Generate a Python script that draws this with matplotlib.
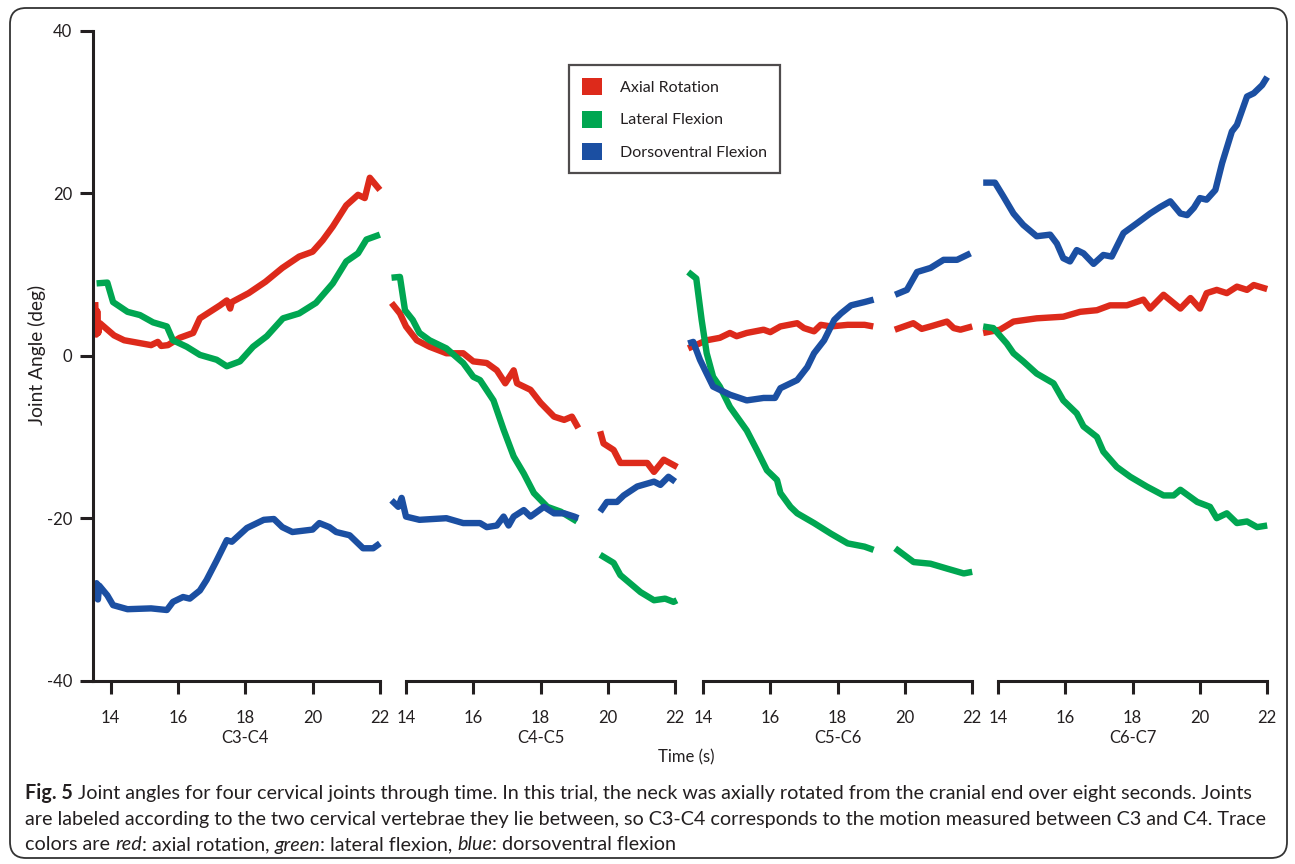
import matplotlib
matplotlib.use("Agg")
import matplotlib.pyplot as plt
import numpy as np
from matplotlib.patches import FancyBboxPatch, Patch
from matplotlib.transforms import IdentityTransform, ScaledTranslation

plt.rcParams['font.family'] = ['Lato', 'DejaVu Sans']
plt.rcParams['axes.unicode_minus'] = False

# ---------------- data ----------------
panels = ["C3-C4", "C4-C5", "C5-C6", "C6-C7"]
series_names = ["Axial Rotation", "Lateral Flexion", "Dorsoventral Flexion"]
x_ticks = [14, 16, 18, 20, 22]
y_ticks = [-40, -20, 0, 20, 40]
gap = np.nan

# C3-C4
c3c4_axial_t = [13.54, 13.57, 13.60, 13.63, 13.68, 14.1, 14.4, 14.8, 15.2, 15.4, 15.5, 15.7, 16.05, 16.45, 16.65, 17.25, 17.45, 17.55, 17.6, 18.1, 18.6, 19.1, 19.6, 20.0, 20.3, 20.6, 21.0, 21.35, 21.55, 21.7, 22.0]
c3c4_axial = [6.6, 2.6, 5.5, 2.8, 4.0, 2.5, 1.9, 1.6, 1.3, 1.7, 1.2, 1.3, 2.2, 2.8, 4.6, 6.2, 6.8, 5.8, 6.6, 7.7, 9.1, 10.8, 12.2, 12.8, 14.2, 15.9, 18.5, 19.8, 19.4, 21.9, 20.4]
c3c4_lateral_t = [13.58, 13.9, 14.07, 14.5, 14.87, 15.26, 15.67, 15.85, 16.26, 16.65, 17.15, 17.45, 17.84, 18.23, 18.64, 19.12, 19.6, 20.1, 20.6, 21.0, 21.35, 21.6, 22.0]
c3c4_lateral = [8.9, 9.0, 6.6, 5.4, 5.0, 4.1, 3.6, 1.9, 1.1, 0.1, -0.5, -1.3, -0.7, 1.1, 2.4, 4.6, 5.2, 6.5, 8.9, 11.6, 12.6, 14.3, 14.9]
c3c4_dorso_t = [13.55, 13.58, 13.62, 13.66, 13.9, 14.07, 14.5, 15.2, 15.67, 15.85, 16.15, 16.35, 16.65, 16.85, 17.15, 17.45, 17.6, 18.05, 18.55, 18.85, 19.1, 19.4, 20.0, 20.2, 20.5, 20.7, 21.1, 21.5, 21.8, 22.0]
c3c4_dorso = [-30.2, -28.0, -30.0, -28.3, -29.5, -30.7, -31.2, -31.1, -31.3, -30.3, -29.7, -29.9, -28.9, -27.6, -25.2, -22.7, -22.9, -21.2, -20.2, -20.1, -21.1, -21.7, -21.4, -20.6, -21.1, -21.7, -22.1, -23.7, -23.7, -23.1]

# C4-C5
c4c5_axial_t = [13.57, 13.82, 14.0, 14.32, 14.7, 15.2, 15.7, 16.0, 16.4, 16.7, 16.95, 17.2, 17.3, 17.7, 18.0, 18.4, 18.7, 18.93, 19.12, 19.4, 19.77, 19.87, 20.17, 20.37, 20.77, 21.17, 21.37, 21.66, 22.06]
c4c5_axial = [6.5, 5.2, 3.6, 1.9, 1.1, 0.3, 0.3, -0.7, -0.9, -1.8, -3.4, -1.8, -3.4, -4.2, -5.8, -7.5, -7.9, -7.5, -8.9, gap, -9.3, -10.8, -11.6, -13.2, -13.2, -13.2, -14.3, -12.8, -13.7]
c4c5_lateral_t = [13.57, 13.82, 13.97, 14.2, 14.4, 14.7, 15.2, 15.7, 16.0, 16.2, 16.6, 16.9, 17.2, 17.5, 17.8, 18.2, 18.6, 19.08, 19.4, 19.77, 20.17, 20.37, 20.77, 20.97, 21.37, 21.7, 21.95, 22.05]
c4c5_lateral = [9.6, 9.7, 5.6, 4.4, 2.8, 1.9, 0.9, -0.9, -2.6, -3.0, -5.5, -9.1, -12.4, -14.5, -16.9, -18.6, -19.2, -20.4, gap, -24.5, -25.5, -27.0, -28.4, -29.1, -30.1, -29.9, -30.3, -30.1]
c4c5_dorso_t = [13.57, 13.77, 13.87, 14.0, 14.4, 15.2, 15.7, 16.2, 16.4, 16.7, 16.9, 17.05, 17.2, 17.5, 17.7, 18.1, 18.4, 18.7, 19.0, 19.12, 19.4, 19.77, 19.97, 20.27, 20.47, 20.87, 21.37, 21.56, 21.8, 22.0]
c4c5_dorso = [-17.8, -18.6, -17.5, -19.8, -20.2, -20.0, -20.6, -20.6, -21.1, -20.9, -19.8, -20.9, -19.8, -19.0, -19.8, -18.6, -19.4, -19.4, -19.8, -20.0, gap, -19.2, -18.0, -18.0, -17.2, -16.1, -15.5, -15.9, -14.9, -15.5]

# C5-C6
c5c6_axial_t = [13.56, 14.11, 14.5, 14.8, 15.0, 15.3, 15.8, 16.0, 16.3, 16.8, 17.0, 17.3, 17.5, 17.8, 18.3, 18.8, 19.06, 19.4, 19.7, 20.25, 20.5, 20.76, 21.25, 21.45, 21.65, 22.0]
c5c6_axial = [0.9, 1.9, 2.2, 2.8, 2.4, 2.8, 3.2, 2.9, 3.6, 4.0, 3.4, 3.0, 3.8, 3.6, 3.8, 3.8, 3.6, gap, 3.2, 4.0, 3.3, 3.6, 4.2, 3.4, 3.2, 3.6]
c5c6_lateral_t = [13.56, 13.8, 13.96, 14.11, 14.3, 14.5, 14.8, 15.3, 15.6, 15.9, 16.2, 16.3, 16.6, 16.8, 17.3, 17.8, 18.3, 18.8, 19.07, 19.4, 19.71, 20.26, 20.76, 21.25, 21.75, 22.0]
c5c6_lateral = [10.3, 9.5, 4.4, 0.3, -2.6, -3.8, -6.3, -9.2, -11.6, -14.1, -15.3, -16.9, -18.6, -19.4, -20.6, -21.9, -23.1, -23.5, -23.9, gap, -23.7, -25.4, -25.6, -26.2, -26.8, -26.6]
c5c6_dorso_t = [13.56, 13.71, 13.91, 14.11, 14.3, 14.8, 15.3, 15.8, 16.14, 16.3, 16.8, 17.1, 17.3, 17.6, 17.9, 18.1, 18.4, 18.8, 19.07, 19.4, 19.71, 20.06, 20.36, 20.76, 21.15, 21.55, 21.95]
c5c6_dorso = [1.5, 1.7, -0.5, -2.2, -3.8, -4.8, -5.5, -5.2, -5.2, -4.0, -3.0, -1.4, 0.3, 1.9, 4.4, 5.2, 6.2, 6.6, 6.9, gap, 7.5, 8.1, 10.3, 10.8, 11.8, 11.8, 12.6]

# C6-C7
c6c7_axial_t = [13.56, 14.06, 14.46, 15.15, 15.94, 16.44, 16.94, 17.33, 17.83, 18.32, 18.52, 18.92, 19.42, 19.72, 20.0, 20.2, 20.5, 20.8, 21.1, 21.4, 21.6, 22.0]
c6c7_axial = [2.8, 3.2, 4.2, 4.6, 4.8, 5.4, 5.6, 6.2, 6.2, 6.9, 5.8, 7.5, 5.8, 7.1, 5.8, 7.7, 8.1, 7.7, 8.5, 8.1, 8.7, 8.2]
c6c7_lateral_t = [13.56, 13.86, 14.26, 14.46, 14.75, 15.15, 15.65, 15.94, 16.34, 16.54, 16.94, 17.13, 17.53, 17.93, 18.42, 18.92, 19.22, 19.42, 19.92, 20.3, 20.5, 20.8, 21.1, 21.4, 21.7, 22.0]
c6c7_lateral = [3.6, 3.4, 1.5, 0.3, -0.7, -2.2, -3.4, -5.5, -7.1, -8.7, -10.0, -11.8, -13.7, -14.9, -16.1, -17.2, -17.2, -16.5, -18.0, -18.6, -20.0, -19.4, -20.6, -20.4, -21.1, -20.9]
c6c7_dorso_t = [13.56, 13.91, 14.16, 14.46, 14.75, 15.15, 15.55, 15.75, 15.94, 16.14, 16.34, 16.54, 16.84, 17.13, 17.38, 17.73, 18.13, 18.52, 18.82, 19.12, 19.42, 19.62, 19.82, 20.0, 20.2, 20.46, 20.66, 20.95, 21.1, 21.4, 21.6, 21.85, 22.0]
c6c7_dorso = [21.3, 21.3, 19.6, 17.5, 16.1, 14.7, 14.9, 13.8, 12.0, 11.6, 13.0, 12.6, 11.3, 12.4, 12.2, 15.1, 16.3, 17.5, 18.3, 19.0, 17.5, 17.3, 18.2, 19.4, 19.2, 20.4, 23.7, 27.6, 28.4, 31.9, 32.3, 33.3, 34.3]

panel_data = [
    [(c3c4_axial_t, c3c4_axial), (c3c4_lateral_t, c3c4_lateral), (c3c4_dorso_t, c3c4_dorso)],
    [(c4c5_axial_t, c4c5_axial), (c4c5_lateral_t, c4c5_lateral), (c4c5_dorso_t, c4c5_dorso)],
    [(c5c6_axial_t, c5c6_axial), (c5c6_lateral_t, c5c6_lateral), (c5c6_dorso_t, c5c6_dorso)],
    [(c6c7_axial_t, c6c7_axial), (c6c7_lateral_t, c6c7_lateral), (c6c7_dorso_t, c6c7_dorso)],
]
colors = ["#DD2A1B", "#00A651", "#1B4FA2"]

# ---------------- layout ----------------
W, H = 1295, 864
fig = plt.figure(figsize=(W / 100, H / 100), dpi=100)

def fx(px):
    return px / W

def fy(py):
    return 1 - py / H

PX_PER_S = 33.65
T0, T1 = 13.46, 22.1
panel_x14 = [110.7, 406.0, 703.0, 998.0]
bottom = fy(680.7)
top = fy(30.7)
LW_AX = 2.2
TXT = "#231F20"
LBL = 12

for i, x14 in enumerate(panel_x14):
    left = x14 - (14 - T0) * PX_PER_S
    width = (T1 - T0) * PX_PER_S
    ax = fig.add_axes([fx(left), bottom, width / W, top - bottom])
    ax.set_xlim(T0, T1)
    ax.set_ylim(-40, 40)
    ax.patch.set_visible(False)
    for s in ["top", "right"]:
        ax.spines[s].set_visible(False)
    for s in ["bottom", "left"]:
        ax.spines[s].set_linewidth(LW_AX)
        ax.spines[s].set_color(TXT)
    if i == 0:
        ax.spines["bottom"].set_bounds(T0, 22)
        ax.set_yticks(y_ticks)
        ax.set_yticklabels([str(v) for v in y_ticks])
        ax.tick_params(axis="y", direction="out", length=9.5, width=LW_AX,
                       pad=5, labelsize=LBL, colors=TXT)
    else:
        ax.spines["left"].set_visible(False)
        ax.spines["bottom"].set_bounds(14, 22)
        ax.set_yticks([])
    ax.set_xticks(x_ticks)
    ax.set_xticklabels([str(v) for v in x_ticks])
    ax.tick_params(axis="x", direction="out", length=9.5, width=LW_AX,
                   pad=11.5, labelsize=LBL, colors=TXT)
    for (t, v), c in zip(panel_data[i], colors):
        ax.plot(t, v, color=c, lw=4.6, clip_on=False,
                solid_joinstyle="round", solid_capstyle="butt")
    ax.text(18, 0, panels[i],
            transform=ax.get_xaxis_transform() +
            ScaledTranslation(0, -(737.7 - 680.7) / 100, fig.dpi_scale_trans),
            ha="center", va="center", fontsize=LBL, color=TXT)

fig.text(fx(37), fy(355), "Joint Angle (deg)", rotation=90, ha="center", va="center",
         fontsize=13.8, color=TXT)
fig.text(fx(686), fy(757), "Time (s)", ha="center", va="center", fontsize=LBL, color=TXT)

# legend
handles = [Patch(facecolor=c, edgecolor="none") for c in colors]
leg = fig.legend(handles, series_names, loc="upper left",
                 bbox_to_anchor=(fx(569), fy(65)), frameon=True, fancybox=False,
                 fontsize=11.5, handlelength=1.25, handleheight=1.25,
                 handletextpad=1.1, labelspacing=0.98, borderpad=0.82,
                 borderaxespad=0)
leg.get_frame().set_edgecolor(TXT)
leg.get_frame().set_linewidth(1.6)
for txt in leg.get_texts():
    txt.set_color(TXT)

# outer rounded border
border = FancyBboxPatch((10, H - 858), 1277, 850,
                        boxstyle="round,pad=0,rounding_size=16",
                        transform=IdentityTransform(), fill=False,
                        edgecolor="#333333", linewidth=1.3)
fig.add_artist(border)

# caption with mixed styles
caption_lines = [
    [("Fig. 5", "bold", "normal"),
     (" Joint angles for four cervical joints through time. In this trial, the neck was axially rotated from the cranial end over eight seconds. Joints", "normal", "normal")],
    [("are labeled according to the two cervical vertebrae they lie between, so C3-C4 corresponds to the motion measured between C3 and C4. Trace", "normal", "normal")],
    [("colors are ", "normal", "normal"), ("red", "normal", "italic"),
     (": axial rotation, ", "normal", "normal"), ("green", "normal", "italic"),
     (": lateral flexion, ", "normal", "normal"), ("blue", "normal", "italic"),
     (": dorsoventral flexion", "normal", "normal")],
]
caption_y = [793, 819, 845]
renderer = fig.canvas.get_renderer()

probe_size = 13.0
probe_w = 0
for s, wgt, sty in caption_lines[0]:
    tt = fig.text(0, 0, s, fontsize=probe_size, fontweight=wgt, fontstyle=sty)
    probe_w += tt.get_window_extent(renderer).width
    tt.remove()
cap_size = probe_size * (1228.0 / probe_w)

for line, yy in zip(caption_lines, caption_y):
    x = 25.0
    for s, wgt, sty in line:
        tt = fig.text(x, H - yy, s, transform=IdentityTransform(), fontsize=cap_size,
                      fontweight=wgt, fontstyle=sty, va="center", ha="left", color=TXT)
        x += tt.get_window_extent(renderer).width

fig.savefig("out.png", dpi=100)
